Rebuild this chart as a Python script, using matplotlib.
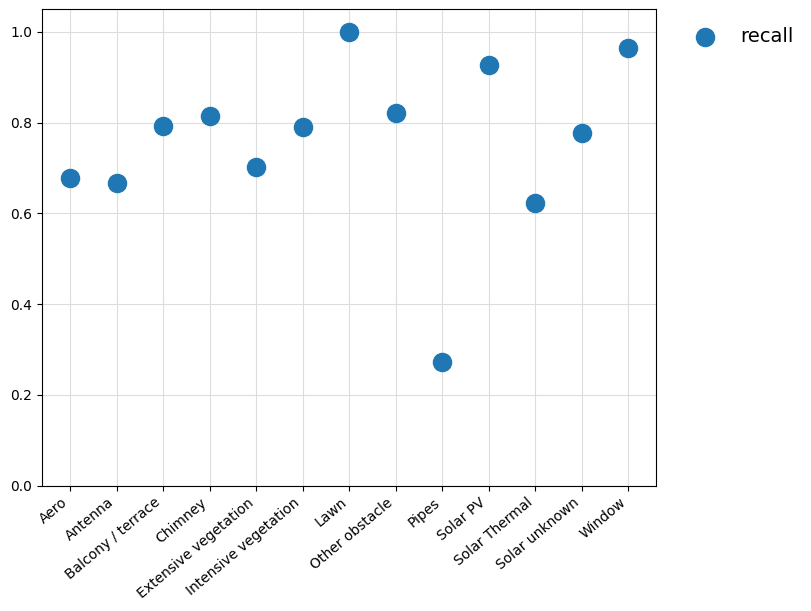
import matplotlib
matplotlib.use("Agg")
import matplotlib.pyplot as plt

classes = ["Aero", "Antenna", "Balcony / terrace", "Chimney", "Extensive vegetation",
           "Intensive vegetation", "Lawn", "Other obstacle", "Pipes", "Solar PV",
           "Solar Thermal", "Solar unknown", "Window"]
recall = [0.679, 0.668, 0.793, 0.815, 0.702, 0.791, 1.0, 0.822, 0.272, 0.926,
          0.624, 0.778, 0.965]

fig, ax = plt.subplots(figsize=(8.11, 6.11), dpi=100)
fig.subplots_adjust(left=0.052, right=0.809, top=0.985, bottom=0.205)

ax.grid(True, color="#dddddd", linewidth=0.8, zorder=0)
ax.scatter(classes, recall, s=170, color="#1f77b4", label="recall", zorder=3)
ax.set_ylim(0, 1.05)
plt.setp(ax.get_xticklabels(), rotation=40, ha="right")
ax.legend(loc="upper left", bbox_to_anchor=(1.02, 1.0), frameon=False, fontsize=14)

fig.savefig("out.png")
